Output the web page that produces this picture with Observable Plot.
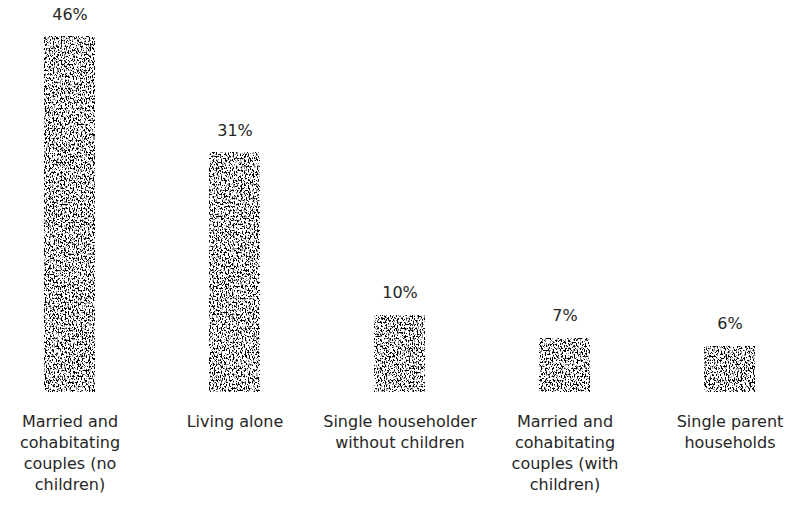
<!DOCTYPE html>
<html>
<head>
<meta charset="utf-8">
<script src="https://cdn.jsdelivr.net/npm/d3@7"></script>
<script src="https://cdn.jsdelivr.net/npm/@observablehq/plot@0.6"></script>
<style>
  html, body { margin: 0; padding: 0; background: #fff; }
  #chart { width: 794px; height: 507px; }
  svg { display: block; }
</style>
</head>
<body>
<div id="chart"></div>
<script>
const categories = [
  "Married and cohabitating couples (no children)",
  "Living alone",
  "Single householder without children",
  "Married and cohabitating couples (with children)",
  "Single parent households"
];
const tickLabels = [
  "Married and\ncohabitating\ncouples (no\nchildren)",
  "Living alone",
  "Single householder\nwithout children",
  "Married and\ncohabitating\ncouples (with\nchildren)",
  "Single parent\nhouseholds"
];
const values = [46, 31, 10, 7, 6];

const data = categories.map((c, i) => ({category: c, label: tickLabels[i], value: values[i]}));

const font = "DejaVu Sans, sans-serif";

const chart = Plot.plot({
  width: 794,
  height: 507,
  marginTop: 36,
  marginBottom: 115,
  marginLeft: 0,
  marginRight: 0,
  style: {fontFamily: font, background: "#fff", color: "#262626"},
  x: {domain: categories, range: [-13, 813], paddingInner: 0.69, paddingOuter: 0.345, align: 0.5, axis: null},
  y: {domain: [0, 46], axis: null},
  marks: [
    Plot.barY(data, {x: "category", y: "value", fill: "#808080"}),
    Plot.text(data, {x: "category", y: "value", text: d => d.value + "%", dy: -22, fontSize: 16, fill: "#262626"}),
    Plot.text(data, {x: "category", frameAnchor: "bottom", lineAnchor: "top", dy: 20, text: "label", fontSize: 16, lineHeight: 1.3125, fill: "#262626"})
  ]
});

// noisy dither texture for the bars (styling only)
const ns = "http://www.w3.org/2000/svg";
const defs = document.createElementNS(ns, "defs");
defs.innerHTML = `
  <filter id="dither" x="-10%" y="-10%" width="120%" height="120%" color-interpolation-filters="sRGB">
    <feTurbulence type="fractalNoise" baseFrequency="0.75 0.5" numOctaves="2" seed="7" result="n"/>
    <feColorMatrix in="n" type="matrix" values="4 0 0 0 -1.45  4 0 0 0 -1.45  4 0 0 0 -1.45  0 0 0 0 1" result="g"/>
    <feComponentTransfer in="g" result="d">
      <feFuncR type="discrete" tableValues="0 0.55 1 1"/>
      <feFuncG type="discrete" tableValues="0 0.55 1 1"/>
      <feFuncB type="discrete" tableValues="0 0.55 1 1"/>
    </feComponentTransfer>
    <feComposite in="d" in2="SourceGraphic" operator="in"/>
  </filter>`;
chart.insertBefore(defs, chart.firstChild);
chart.querySelectorAll('g[aria-label="bar"] rect').forEach(r => {
  r.setAttribute("filter", "url(#dither)");
  r.setAttribute("shape-rendering", "crispEdges");
});

document.getElementById("chart").appendChild(chart);
</script>
</body>
</html>
